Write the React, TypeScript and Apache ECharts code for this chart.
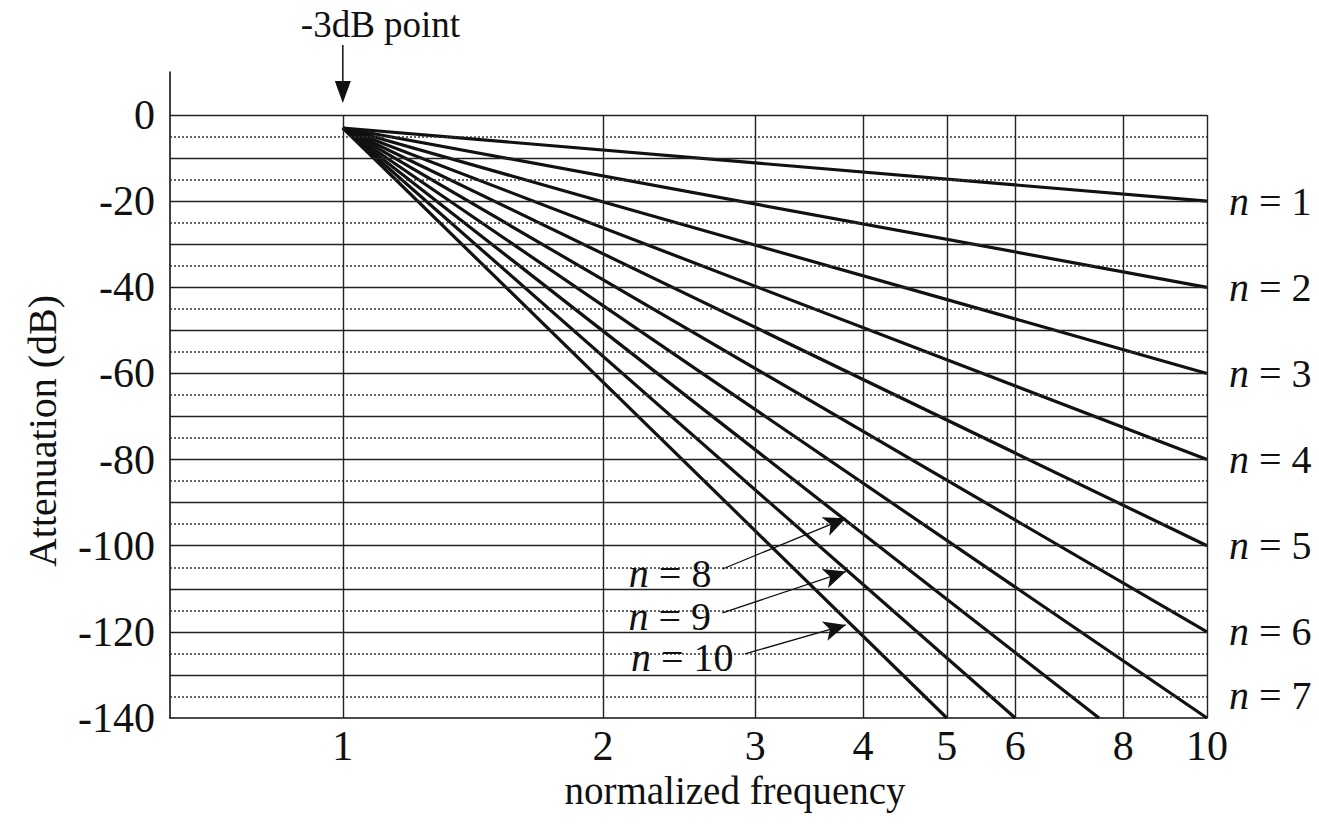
import React, { useEffect, useRef } from "react";
import * as echarts from "echarts";

const FONT = "'Liberation Serif', 'Times New Roman', serif";
const INK = "#111";

// Filter order of each attenuation line
const orders = [1, 2, 3, 4, 5, 6, 7, 8, 9, 10];
// Every line leaves the -3 dB point at normalized frequency 1
const startFreq = 1;
const startDb = -3;
// Where each line leaves the plot area
const endFreq = [10, 10, 10, 10, 10, 10, 10, 7.5, 6, 5];
const endDb = [-20, -40, -60, -80, -100, -120, -140, -140, -140, -140];

// Axis extents
const freqMin = 0.631;
const freqMax = 10;
const dbMin = -140;
const dbMax = 10;
const dbStep = 20;

// Frequency grid lines and their labels
const freqTicks = [1, 2, 3, 4, 5, 6, 8, 10];
const freqTickLabels = ["1", "2", "3", "4", "5", "6", "8", "10"];

// Solid lines every 10 dB, dotted lines in between
const majorGridDb = [0, -10, -20, -30, -40, -50, -60, -70, -80, -90, -100, -110, -120, -130];
const minorGridDb = [-5, -15, -25, -35, -45, -55, -65, -75, -85, -95, -105, -115, -125, -135];

// Call-outs for the steep lines: label anchor -> arrow tip
const calloutOrders = [8, 9, 10];
const calloutFrom = [
  [2.75, -105.4],
  [2.75, -115.6],
  [2.92, -125.1],
];
const calloutTo = [
  [3.82, -93.6],
  [3.82, -106.0],
  [3.82, -118.4],
];

const TICK_SIZE = 42;
const N_SIZE = 40;

const richN = (size: number) => ({
  i: { fontFamily: FONT, fontSize: size, fontStyle: "italic", color: INK },
  r: { fontFamily: FONT, fontSize: size, color: INK },
});

export default function App() {
  const ref = useRef<HTMLDivElement>(null);

  useEffect(() => {
    if (!ref.current) return;
    const chart = echarts.init(ref.current, undefined, { renderer: "svg" });

    const solid = { color: "#222", width: 1.4, type: "solid" };
    const dotted = { color: "#333", width: 1.6, type: [2, 2] };

    const gridSeries: any = {
      name: "grid",
      type: "line",
      data: [],
      silent: true,
      z: 1,
      markLine: {
        silent: true,
        symbol: ["none", "none"],
        label: { show: false },
        data: [
          ...majorGridDb.map((v) => ({ yAxis: v, lineStyle: solid })),
          ...minorGridDb.map((v) => ({ yAxis: v, lineStyle: dotted })),
          ...freqTicks.map((f) => [
            { coord: [f, 0], lineStyle: solid },
            { coord: [f, dbMin] },
          ]),
        ],
      },
    };

    const tickSeries: any = {
      name: "freq-ticks",
      type: "scatter",
      silent: true,
      symbolSize: 1,
      itemStyle: { color: INK, opacity: 0 },
      data: freqTicks.map((f) => [f, dbMin]),
      label: {
        show: true,
        position: "bottom",
        distance: 6,
        color: INK,
        opacity: 1,
        textBorderWidth: 0,
        fontFamily: FONT,
        fontSize: TICK_SIZE,
        formatter: (p: any) => freqTickLabels[p.dataIndex],
      },
      z: 2,
    };

    const lineSeries: any[] = orders.map((n, i) => {
      const s: any = {
        name: "n = " + n,
        type: "line",
        data: [
          [startFreq, startDb],
          [endFreq[i], endDb[i]],
        ],
        symbol: "none",
        silent: true,
        z: 3,
        lineStyle: { color: INK, width: 3.2 },
      };
      if (n <= 7) {
        s.endLabel = {
          show: true,
          distance: 22,
          offset: n === 7 ? [0, -23] : [0, 0],
          formatter: "{i|n}{r| = " + n + "}",
          rich: richN(N_SIZE),
        };
      }
      const c = calloutOrders.indexOf(n);
      if (c >= 0) {
        s.markLine = {
          silent: true,
          lineStyle: { color: INK, width: 1.3, type: "solid" },
          label: {
            show: true,
            position: "start",
            distance: 12,
            formatter: "{i|n}{r| = " + n + "}",
            rich: richN(N_SIZE),
          },
          data: [
            [
              { coord: calloutFrom[c], symbol: "none" },
              { coord: calloutTo[c], symbol: "arrow", symbolSize: [15, 22] },
            ],
          ],
        };
      }
      return s;
    });

    chart.setOption({
      animation: false,
      backgroundColor: "#fff",
      textStyle: { fontFamily: FONT, color: INK },
      grid: { left: 170, right: 112, top: 72, bottom: 110, containLabel: false },
      xAxis: {
        type: "log",
        logBase: 10,
        min: freqMin,
        max: freqMax,
        axisLine: { show: true, onZero: false, lineStyle: { color: INK, width: 1.6 } },
        axisTick: { show: false },
        axisLabel: { show: false },
        splitLine: { show: false },
        minorSplitLine: { show: false },
      },
      yAxis: {
        type: "value",
        min: dbMin,
        max: dbMax,
        interval: dbStep,
        axisLine: { show: true, onZero: false, lineStyle: { color: INK, width: 1.6 } },
        axisTick: { show: false },
        splitLine: { show: false },
        axisLabel: {
          margin: 15,
          color: INK,
          fontFamily: FONT,
          fontSize: TICK_SIZE,
          formatter: (v: number) => (v > 0 ? "" : String(v)),
        },
      },
      series: [gridSeries, tickSeries, ...lineSeries],
    });

    // Annotations placed relative to the -3 dB point
    const [px] = chart.convertToPixel({ gridIndex: 0 }, [startFreq, startDb]) as number[];
    chart.setOption({
      graphic: [
        {
          type: "text",
          x: px - 42,
          y: 24,
          style: {
            text: "-3dB point",
            font: "37px " + FONT,
            fill: INK,
            textVerticalAlign: "middle",
          },
        },
        {
          type: "line",
          shape: { x1: px, y1: 45, x2: px, y2: 88 },
          style: { stroke: INK, lineWidth: 1.5 },
        },
        {
          type: "polygon",
          shape: {
            points: [
              [px - 8, 81],
              [px + 8, 81],
              [px, 103],
            ],
          },
          style: { fill: INK },
        },
        {
          type: "text",
          x: 735,
          y: 790,
          style: {
            text: "normalized frequency",
            font: "39px " + FONT,
            fill: INK,
            textAlign: "center",
            textVerticalAlign: "middle",
          },
        },
        {
          type: "text",
          x: 42,
          y: 431,
          rotation: Math.PI / 2,
          style: {
            text: "Attenuation (dB)",
            font: "40px " + FONT,
            fill: INK,
            textAlign: "center",
            textVerticalAlign: "middle",
          },
        },
      ],
    });

    return () => chart.dispose();
  }, []);

  return (
    <div
      ref={ref}
      style={{ position: "fixed", left: 0, top: 0, width: 1319, height: 828, background: "#fff" }}
    />
  );
}
